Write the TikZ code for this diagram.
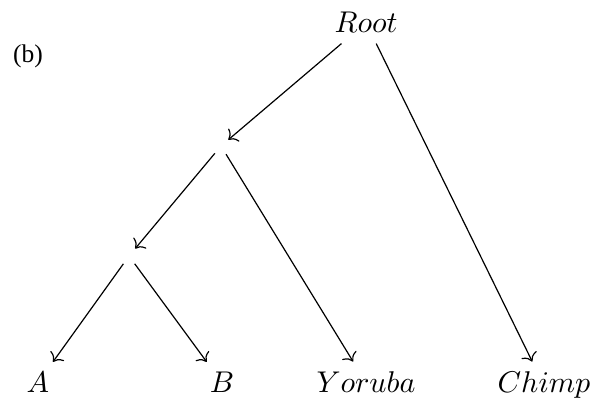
\documentclass[tikz,border=0pt]{standalone}
\usepackage{fontspec}
\usetikzlibrary{positioning, arrows.meta}
\newfontfamily\panelfont{Liberation Serif}
\tikzset{
  taxon/.style={anchor=base, inner sep=3.33pt, font=\normalsize},
  split/.style={circle, inner sep=0pt, minimum size=6pt},
  branch/.style={-{To[length=2.6pt, width=5.6pt]}, line width=0.4pt},
  panel/.style={anchor=base, inner sep=0pt, font=\fontsize{8.5}{10}\panelfont}
}
\begin{document}
\begin{tikzpicture}[x=0.3333pt, y=-0.3333pt]
  \useasboundingbox (0,0) rectangle (598,400);

  % tree drawn top to bottom, leaves on one baseline
  \node[taxon] (root) at (366,33) {$Root$};
  \node[split] (s1) at (221,146) {};
  \node[split] (s2) at (129,256) {};
  \node[taxon] (a) at (38,393) {$A$};
  \node[taxon] (b) at (222,393) {$B$};
  \node[taxon] (yor) at (366,393) {$Yoruba$};
  \node[taxon] (chimp) at (544,393) {$Chimp$};
  \node[panel] (lab) at (28,63) {(b)};

  \draw[branch] (root) -- (s1);
  \draw[branch] (root) -- (chimp);
  \draw[branch] (s1) -- (s2);
  \draw[branch] (s1) -- (yor);
  \draw[branch] (s2) -- (a);
  \draw[branch] (s2) -- (b);
\end{tikzpicture}
\end{document}
